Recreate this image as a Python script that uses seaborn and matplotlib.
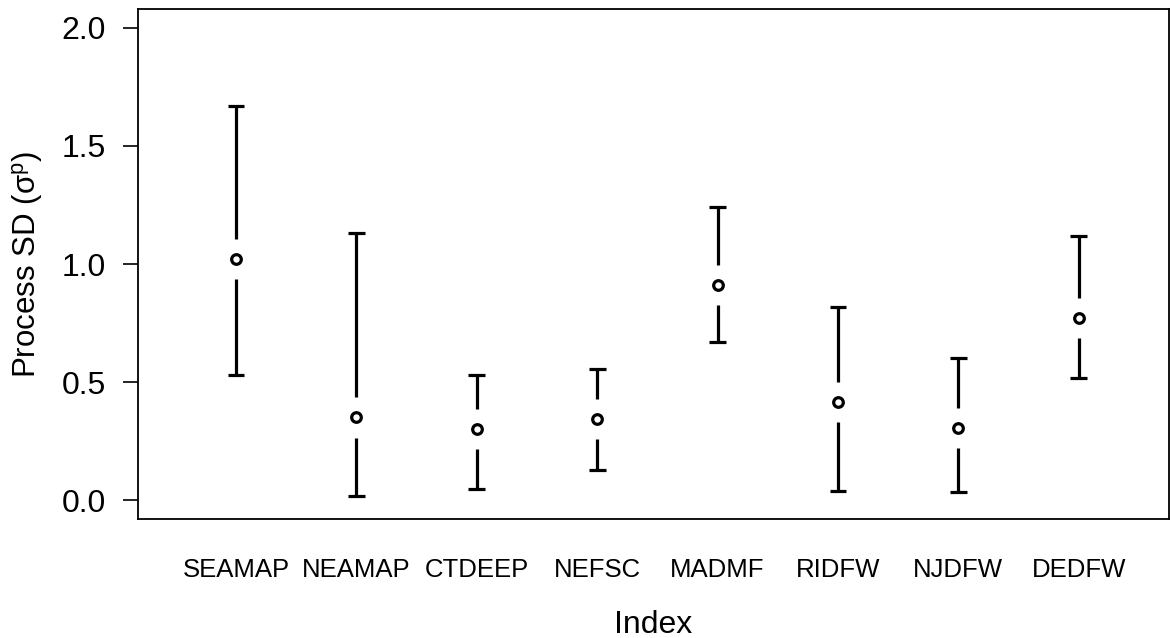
import numpy as np
import pandas as pd
import matplotlib
matplotlib.use("Agg")
import matplotlib.pyplot as plt
import seaborn as sns

# survey indices and estimated process SD with interval bounds
indices = ["SEAMAP", "NEAMAP", "CTDEEP", "NEFSC", "MADMF", "RIDFW", "NJDFW", "DEDFW"]
estimate = [1.02, 0.35, 0.30, 0.343, 0.911, 0.417, 0.305, 0.773]
upper = [1.67, 1.13, 0.53, 0.555, 1.243, 0.819, 0.60, 1.119]
lower = [0.53, 0.017, 0.047, 0.127, 0.669, 0.04, 0.034, 0.517]

df = pd.DataFrame({"index": indices, "est": estimate, "hi": upper, "lo": lower})
df["x"] = np.arange(1, len(df) + 1)

sns.set_style("white")
plt.rcParams["font.family"] = ["Liberation Sans", "DejaVu Sans"]
plt.rcParams["text.color"] = "black"
plt.rcParams["axes.labelcolor"] = "black"
plt.rcParams["xtick.color"] = "black"
plt.rcParams["ytick.color"] = "black"

fig = plt.figure(figsize=(11.7, 6.38), dpi=100)
ax = fig.add_axes([138 / 1170, 1 - 519 / 638, 1031 / 1170, 510 / 638])

gap = 0.085  # space left between the point and the whiskers
ax.vlines(df["x"], df["est"] + gap, df["hi"], color="black", lw=2.3)
ax.vlines(df["x"], df["lo"], df["est"] - gap, color="black", lw=2.3)
cap = 0.07
ax.hlines(df["hi"], df["x"] - cap, df["x"] + cap, color="black", lw=2.3)
ax.hlines(df["lo"], df["x"] - cap, df["x"] + cap, color="black", lw=2.3)

sns.scatterplot(data=df, x="x", y="est", ax=ax, s=48, marker="o",
                facecolor="white", edgecolor="black", linewidth=2.3, zorder=3)

ax.set_xlim(0.186, 8.75)
ax.set_ylim(-0.08, 2.08)
ax.set_yticks([0.0, 0.5, 1.0, 1.5, 2.0])
ax.set_yticklabels(["0.0", "0.5", "1.0", "1.5", "2.0"], fontsize=23)
ax.set_xticks(df["x"])
ax.set_xticklabels(df["index"], fontsize=18.5)
ax.tick_params(axis="y", length=11, width=1.2, pad=12, direction="out", left=True)
ax.tick_params(axis="x", length=0, pad=28)

ax.set_xlabel("Index", fontsize=23, labelpad=20)
ax.set_ylabel(r"Process SD ($\mathregular{\sigma^p}$)", fontsize=22.5, labelpad=12)

for s in ax.spines.values():
    s.set_color("black")
    s.set_linewidth(1.3)

fig.savefig("out.png", dpi=100)
